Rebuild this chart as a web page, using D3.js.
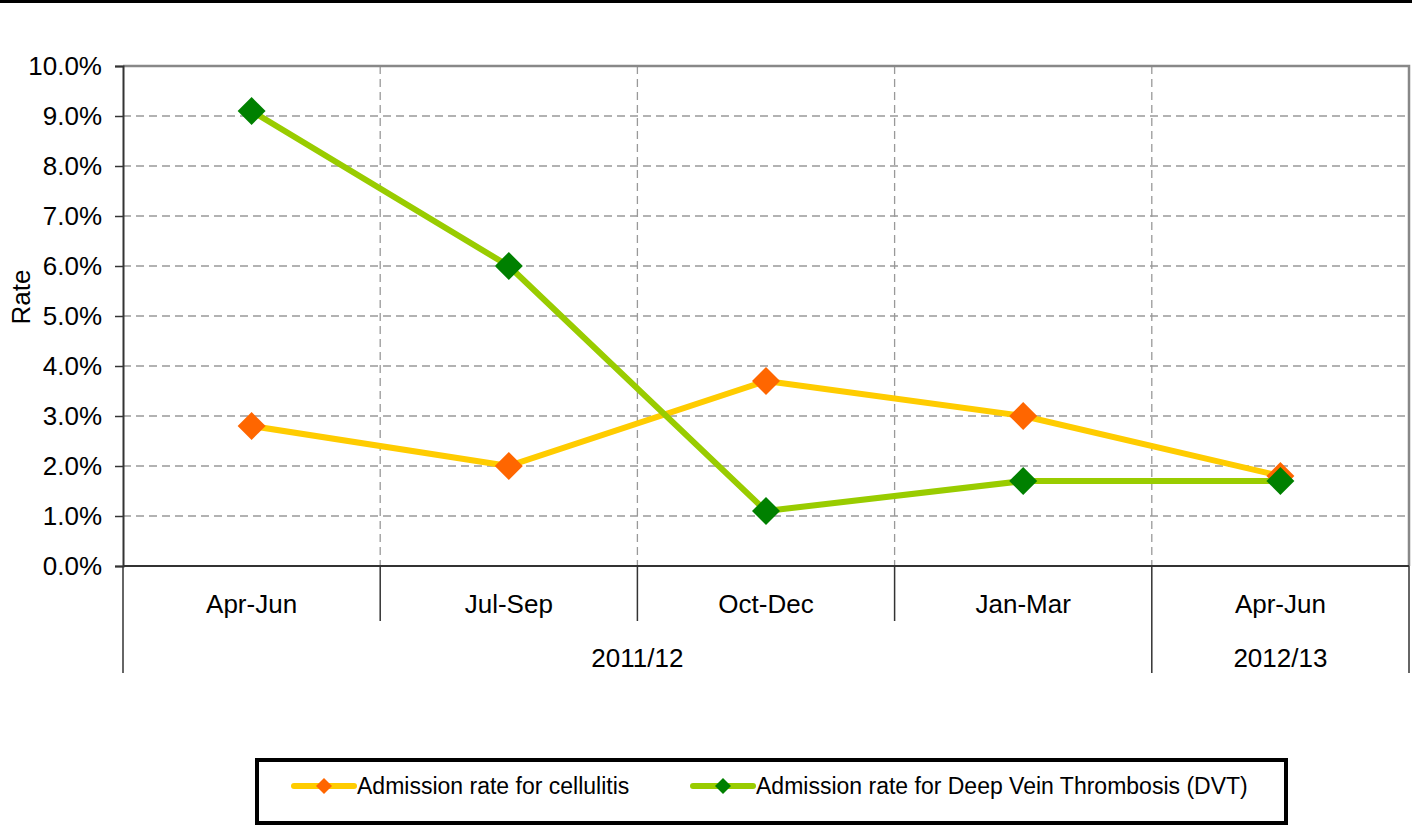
<!DOCTYPE html>
<html><head><meta charset="utf-8">
<script src="https://cdn.jsdelivr.net/npm/d3@7"></script>
<style>body{margin:0;background:#fff}svg{display:block;font-family:"Liberation Sans",Arial,sans-serif}</style>
</head><body><svg id="c" width="1412" height="826"></svg>
<script>
const categories = ["Apr-Jun","Jul-Sep","Oct-Dec","Jan-Mar","Apr-Jun"];
const years = [{label:"2011/12", from:0, to:4},{label:"2012/13", from:4, to:5}];
const cellulitis = [2.8, 2.0, 3.7, 3.0, 1.8];
const dvt = [9.1, 6.0, 1.1, 1.7, 1.7];
const yTicks = [0,1,2,3,4,5,6,7,8,9,10];
const seriesNames = ["Admission rate for cellulitis","Admission rate for Deep Vein Thrombosis (DVT)"];

const svg = d3.select("#c");
const L = 123, R = 1409, T = 66, B = 566;
const FS = 26;
const x = d3.scaleBand().domain(d3.range(categories.length)).range([L, R]);
const y = d3.scaleLinear().domain([0, 10]).range([B, T]);

// top black rule
svg.append("rect").attr("x",0).attr("y",0).attr("width",1412).attr("height",3).attr("fill","#000");

// horizontal grid
svg.append("g").selectAll("line").data(yTicks.filter(d=>d>0 && d<10)).join("line")
  .attr("x1",L).attr("x2",R).attr("y1",d=>y(d)).attr("y2",d=>y(d))
  .attr("stroke","#999").attr("stroke-width",1.3).attr("stroke-dasharray","8,5");
// vertical grid
svg.append("g").selectAll("line").data(d3.range(1,categories.length)).join("line")
  .attr("x1",d=>x(d)).attr("x2",d=>x(d)).attr("y1",T).attr("y2",B)
  .attr("stroke","#999").attr("stroke-width",1.3).attr("stroke-dasharray","8,5");

// plot border top/right
svg.append("path").attr("d",`M${L},${T}H${R}V${B}`).attr("fill","none").attr("stroke","#888").attr("stroke-width",2.5);

// y axis
const yAxis = d3.axisLeft(y).tickValues(yTicks).tickSize(8).tickFormat(d=>d.toFixed(1)+"%");
const ga = svg.append("g").attr("transform",`translate(${L},0)`).call(yAxis);
ga.select(".domain").attr("stroke","#333").attr("stroke-width",2);
ga.selectAll(".tick line").attr("stroke","#333").attr("stroke-width",1.5);
ga.selectAll(".tick text").attr("font-size",FS).attr("fill","#000").attr("x",-21).attr("font-family","Liberation Sans, Arial, sans-serif");

// bottom axis line
svg.append("line").attr("x1",L).attr("x2",R).attr("y1",B).attr("y2",B).attr("stroke","#333").attr("stroke-width",2);
// category separators
const bounds = d3.range(0,categories.length+1);
const yearBounds = new Set(years.flatMap(d=>[d.from,d.to]));
svg.append("g").selectAll("line").data(bounds).join("line")
  .attr("x1",d=>x(d)??R).attr("x2",d=>x(d)??R).attr("y1",B)
  .attr("y2",d=>yearBounds.has(d)?673:621)
  .attr("stroke","#333").attr("stroke-width",1.5);
// category labels
svg.append("g").selectAll("text").data(categories).join("text")
  .attr("x",(d,i)=>x(i)+x.bandwidth()/2).attr("y",604).attr("dy","0.35em")
  .attr("text-anchor","middle").attr("font-size",FS).text(d=>d);
svg.append("g").selectAll("text").data(years).join("text")
  .attr("x",d=>((x(d.from))+(x(d.to)??R))/2).attr("y",658).attr("dy","0.35em")
  .attr("text-anchor","middle").attr("font-size",FS).text(d=>d.label);

// y title
svg.append("text").attr("transform","translate(21,297) rotate(-90)").attr("text-anchor","middle")
  .attr("dy","0.35em").attr("font-size",FS).text("Rate");

const cx = i => x(i)+x.bandwidth()/2;
const line = d3.line().x((d,i)=>cx(i)).y(d=>y(d));
const diamond = (s) => `M0,${-s}L${s},0L0,${s}L${-s},0Z`;
const series = [
  {vals:cellulitis, lc:"#FFCC00", mc:"#FF6600"},
  {vals:dvt, lc:"#99CC00", mc:"#008000"}
];
series.forEach(s=>{
  svg.append("path").attr("d",line(s.vals)).attr("fill","none").attr("stroke",s.lc).attr("stroke-width",6).attr("stroke-linejoin","round");
});
series.forEach(s=>{
  svg.append("g").selectAll("path").data(s.vals).join("path")
    .attr("transform",(d,i)=>`translate(${cx(i)},${y(d)})`).attr("d",diamond(14)).attr("fill",s.mc);
});

// legend
svg.append("rect").attr("x",257).attr("y",760).attr("width",1029).attr("height",63)
  .attr("fill","#fff").attr("stroke","#000").attr("stroke-width",4);
const legX = [294, 693];
series.forEach((s,i)=>{
  const g = svg.append("g").attr("transform",`translate(${legX[i]},786)`);
  g.append("line").attr("x1",0).attr("x2",60).attr("stroke",s.lc).attr("stroke-width",6).attr("stroke-linecap","round");
  g.append("path").attr("transform","translate(30,0)").attr("d",diamond(8)).attr("fill",s.mc);
  g.append("text").attr("x",63).attr("dy","0.35em").attr("font-size",23).text(seriesNames[i]);
});
</script></body></html>
